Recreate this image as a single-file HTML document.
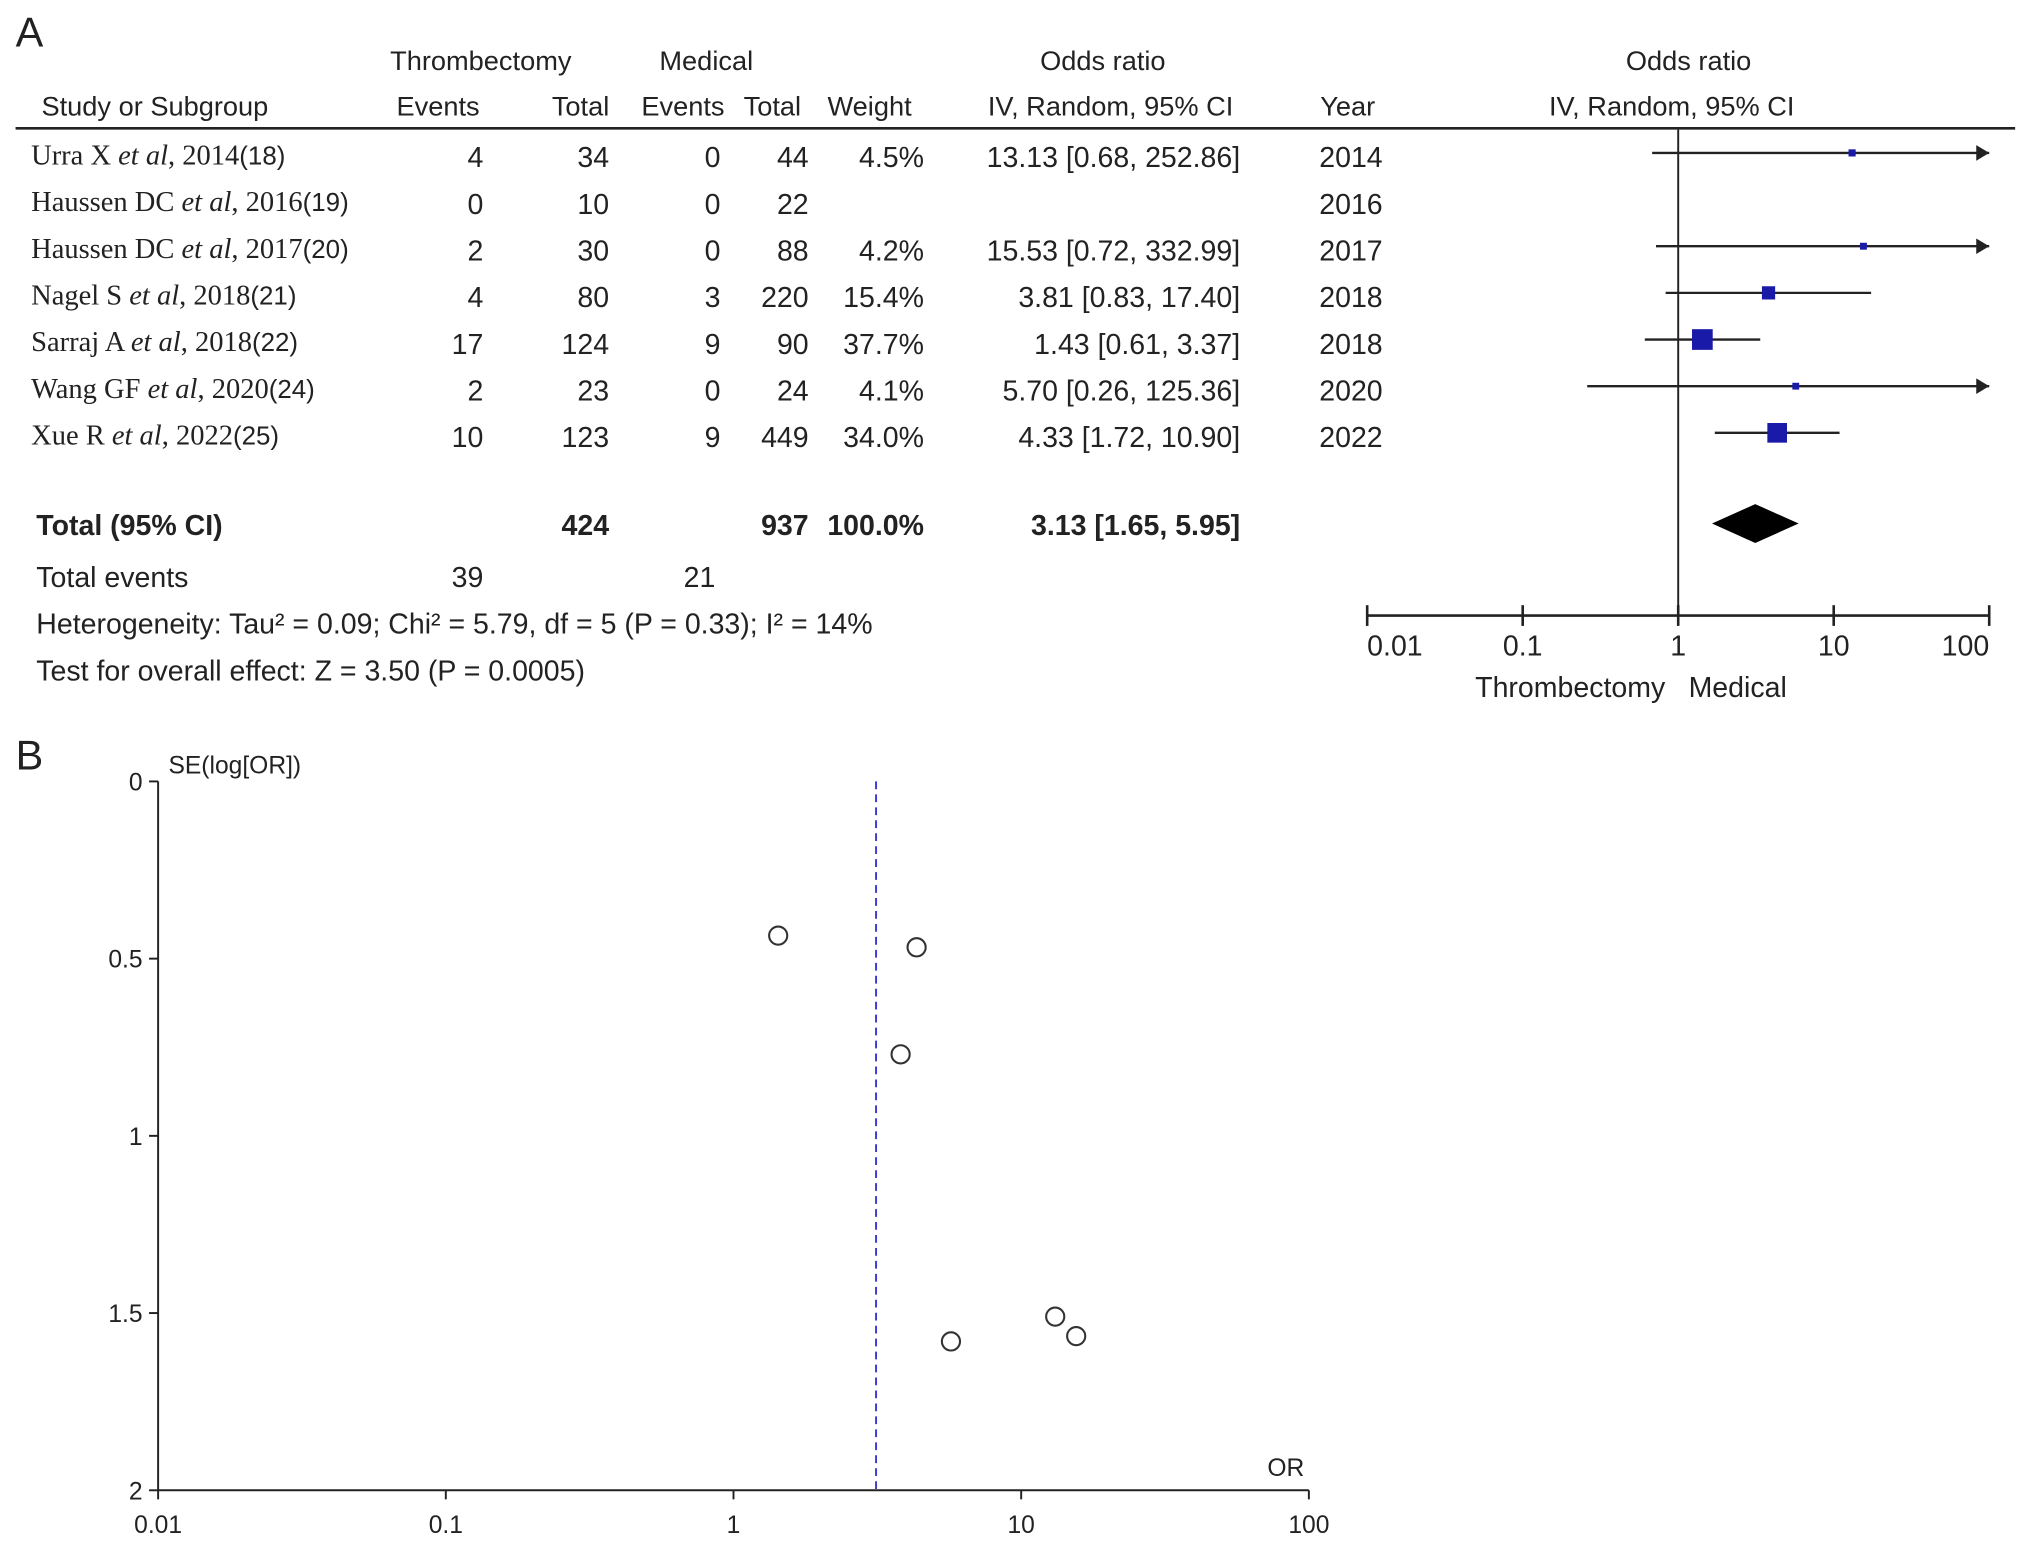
<!DOCTYPE html>
<html><head><meta charset="utf-8"><style>
html,body{margin:0;padding:0;background:#fff}
svg{display:block}
text{font-family:"Liberation Sans",sans-serif;fill:#222}
.s{font-family:"Liberation Serif",serif;font-size:22px}
.t{font-size:21px}
</style></head><body>
<svg id="c" width="2032" height="1546" viewBox="0 0 1568 1193" xmlns="http://www.w3.org/2000/svg">
<text x="12" y="36" font-size="32">A</text>
<text x="12" y="594" font-size="32">B</text>
<g class="t">
<text x="371" y="54" text-anchor="middle" font-size="21">Thrombectomy</text>
<text x="545" y="54" text-anchor="middle" font-size="21">Medical</text>
<text x="851" y="54" text-anchor="middle" font-size="21">Odds ratio</text>
<text x="1303" y="54" text-anchor="middle" font-size="21">Odds ratio</text>
<text x="32" y="89" font-size="21">Study or Subgroup</text>
<text x="338" y="89" text-anchor="middle" font-size="21">Events</text>
<text x="448" y="89" text-anchor="middle" font-size="21">Total</text>
<text x="527" y="89" text-anchor="middle" font-size="21">Events</text>
<text x="596" y="89" text-anchor="middle" font-size="21">Total</text>
<text x="671" y="89" text-anchor="middle" font-size="21">Weight</text>
<text x="857" y="89" text-anchor="middle" font-size="21">IV, Random, 95% CI</text>
<text x="1040" y="89" text-anchor="middle" font-size="21">Year</text>
<text x="1290" y="89" text-anchor="middle" font-size="21">IV, Random, 95% CI</text>
</g>
<line x1="12" y1="99" x2="1555" y2="99" stroke="#222" stroke-width="2"/>
<g id="rows"></g>
<g id="forest"></g>
<g id="funnel"></g>
</svg>
<script>
const studies=["Urra X","Haussen DC","Haussen DC","Nagel S","Sarraj A","Wang GF","Xue R"];
const studyYears=["2014","2016","2017","2018","2018","2020","2022"];
const refs=["(18)","(19)","(20)","(21)","(22)","(24)","(25)"];
const thrEvents=[4,0,2,4,17,2,10];
const thrTotal=[34,10,30,80,124,23,123];
const medEvents=[0,0,0,3,9,0,9];
const medTotal=[44,22,88,220,90,24,449];
const weights=[4.5,null,4.2,15.4,37.7,4.1,34.0];
const ors=[13.13,null,15.53,3.81,1.43,5.70,4.33];
const ciLo=[0.68,null,0.72,0.83,0.61,0.26,1.72];
const ciHi=[252.86,null,332.99,17.40,3.37,125.36,10.90];
const totalOR=[3.13,1.65,5.95];
const forestTicks=[0.01,0.1,1,10,100];
const forestTickLabels=["0.01","0.1","1","10","100"];
// funnel data
const funnelOR=[13.13,15.53,3.81,1.43,5.70,4.33];
const funnelSE=[1.51,1.565,0.77,0.435,1.58,0.468];
const seTicks=[0,0.5,1,1.5,2];
const seTickLabels=["0","0.5","1","1.5","2"];

const NS="http://www.w3.org/2000/svg";
function mk(p,tag,attrs,txt){const e=document.createElementNS(NS,tag);for(const k in attrs)e.setAttribute(k,attrs[k]);if(txt!=null)e.textContent=txt;p.appendChild(e);return e;}
const fmt=v=>v.toFixed(2);
const rows=document.getElementById('rows');
const rowY=i=>129+i*36;
studies.forEach((s,i)=>{
  const g=mk(rows,'g',{});
  
  
  const y=rowY(i);
  const t=mk(g,'text',{x:24,y:y-2,class:'s'});
  const a=document.createElementNS(NS,'tspan');a.textContent=s+' ';t.appendChild(a);
  const b=document.createElementNS(NS,'tspan');b.setAttribute('font-style','italic');b.textContent='et al';t.appendChild(b);
  const c=document.createElementNS(NS,'tspan');c.textContent=', '+studyYears[i];t.appendChild(c);
  const d=document.createElementNS(NS,'tspan');d.setAttribute('font-family','Liberation Sans');d.setAttribute('font-size','20');d.textContent=refs[i];t.appendChild(d);
  const R=(x,v)=>mk(g,'text',{x:x,y:y,'text-anchor':'end','font-size':22},v);
  R(373,thrEvents[i]);R(470,thrTotal[i]);R(556,medEvents[i]);R(624,medTotal[i]);
  if(weights[i]!=null){R(713,weights[i].toFixed(1)+'%');R(957,fmt(ors[i])+' ['+fmt(ciLo[i])+', '+fmt(ciHi[i])+']');}
  mk(g,'text',{x:1018,y:y,'font-size':22},studyYears[i]);
});
const tg=mk(rows,'g',{'font-size':22});


const sum=a=>a.reduce((p,c)=>p+c,0);
mk(tg,'text',{x:28,y:413,'font-weight':'bold'},'Total (95% CI)');
mk(tg,'text',{x:470,y:413,'text-anchor':'end','font-weight':'bold'},sum(thrTotal));
mk(tg,'text',{x:624,y:413,'text-anchor':'end','font-weight':'bold'},sum(medTotal));
mk(tg,'text',{x:713,y:413,'text-anchor':'end','font-weight':'bold'},'100.0%');
mk(tg,'text',{x:957,y:413,'text-anchor':'end','font-weight':'bold'},fmt(totalOR[0])+' ['+fmt(totalOR[1])+', '+fmt(totalOR[2])+']');
mk(tg,'text',{x:28,y:453},'Total events');
mk(tg,'text',{x:373,y:453,'text-anchor':'end'},sum(thrEvents));
mk(tg,'text',{x:552,y:453,'text-anchor':'end'},sum(medEvents));
mk(tg,'text',{x:28,y:489},'Heterogeneity: Tau² = 0.09; Chi² = 5.79, df = 5 (P = 0.33); I² = 14%');
mk(tg,'text',{x:28,y:525},'Test for overall effect: Z = 3.50 (P = 0.0005)');

// forest plot
const F=document.getElementById('forest');
const fx=v=>1295+120*Math.log10(v);
const FX0=fx(0.01),FX1=fx(100);
let e=mk(F,'line',{x1:fx(1),y1:100,x2:fx(1),y2:475,stroke:'#222','stroke-width':1.5});

e=mk(F,'line',{x1:FX0,y1:475,x2:FX1,y2:475,stroke:'#222','stroke-width':2});

forestTicks.forEach((v,i)=>{
  mk(F,'line',{x1:fx(v),y1:467,x2:fx(v),y2:483,stroke:'#222','stroke-width':2});
  const anc=i==0?'start':i==forestTicks.length-1?'end':'middle';
  const l=mk(F,'text',{x:fx(v),y:506,'text-anchor':anc,'font-size':22},forestTickLabels[i]);
  
});
mk(F,'text',{x:1285,y:538,'text-anchor':'end','font-size':22},'Thrombectomy');
mk(F,'text',{x:1303,y:538,'font-size':22},'Medical');
ors.forEach((o,i)=>{
  if(o==null)return;
  const y=rowY(i)-11;
  const g=mk(F,'g',{});
  
  
  const lo=Math.max(fx(ciLo[i]),FX0),hi=Math.min(fx(ciHi[i]),FX1);
  mk(g,'line',{x1:lo,y1:y,x2:hi,y2:y,stroke:'#222','stroke-width':1.8});
  if(fx(ciHi[i])>FX1)mk(g,'path',{d:`M${FX1} ${y} l-10 -6 v12 z`,fill:'#222'});
  const s=Math.max(4,Math.sqrt(weights[i])*2.6);
  mk(g,'rect',{x:fx(o)-s/2,y:y-s/2,width:s,height:s,fill:'#1a1aa8'});
});
e=mk(F,'path',{d:`M${fx(totalOR[1])} 404 L${fx(totalOR[0])} 389 L${fx(totalOR[2])} 404 L${fx(totalOR[0])} 419 Z`,fill:'#000'});


// funnel
const U=document.getElementById('funnel');
const ux=v=>122+222*(Math.log10(v)+2);
const uy=v=>603+273.5*v;
e=mk(U,'line',{x1:122,y1:uy(0),x2:122,y2:uy(2),stroke:'#222','stroke-width':1.5});

e=mk(U,'line',{x1:122,y1:uy(2),x2:ux(100),y2:uy(2),stroke:'#222','stroke-width':1.5});

seTicks.forEach((v,i)=>{
  mk(U,'line',{x1:115,y1:uy(v),x2:122,y2:uy(v),stroke:'#222','stroke-width':1.5});
  const l=mk(U,'text',{x:110,y:uy(v)+7,'text-anchor':'end','font-size':19},seTickLabels[i]);
  
});
forestTicks.forEach((v,i)=>{
  mk(U,'line',{x1:ux(v),y1:uy(2),x2:ux(v),y2:uy(2)+7,stroke:'#222','stroke-width':1.5});
  const l=mk(U,'text',{x:ux(v),y:uy(2)+33,'text-anchor':'middle','font-size':19},forestTickLabels[i]);
  
});
e=mk(U,'text',{x:130,y:597,'font-size':19},'SE(log[OR])');

e=mk(U,'text',{x:978,y:1139,'font-size':19},'OR');

e=mk(U,'line',{x1:ux(totalOR[0]),y1:uy(0),x2:ux(totalOR[0]),y2:uy(2),stroke:'#3a3ad0','stroke-width':1.5,'stroke-dasharray':'6,4'});

funnelOR.forEach((o,i)=>{
  const c=mk(U,'circle',{cx:ux(o),cy:uy(funnelSE[i]),r:7,fill:'none',stroke:'#333','stroke-width':1.6});
  
  
});
</script>
</body></html>
